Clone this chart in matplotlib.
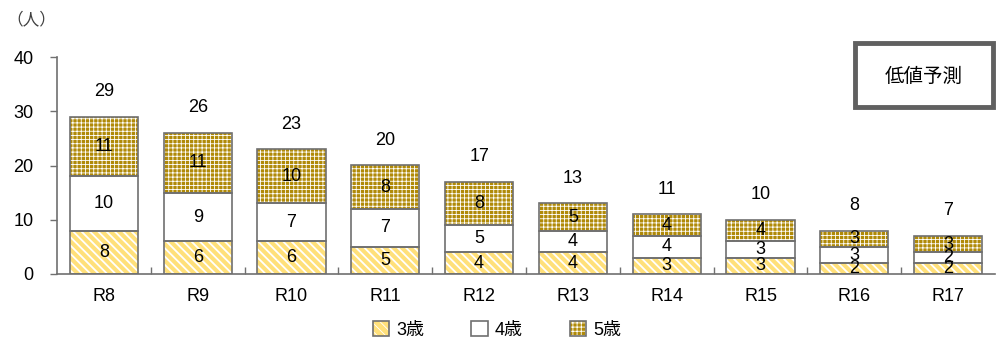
import matplotlib
matplotlib.use("Agg")
import matplotlib.pyplot as plt
from matplotlib.patches import Patch, Rectangle
from matplotlib.legend_handler import HandlerTuple
import numpy as np

plt.rcParams['font.family'] = ['Liberation Sans', 'Noto Sans CJK JP', 'DejaVu Sans']

categories = ["R8", "R9", "R10", "R11", "R12", "R13", "R14", "R15", "R16", "R17"]
age3 = [8, 6, 6, 5, 4, 4, 3, 3, 2, 2]
age4 = [10, 9, 7, 7, 5, 4, 4, 3, 3, 2]
age5 = [11, 11, 10, 8, 8, 5, 4, 4, 3, 3]
series_names = ["3歳", "4歳", "5歳"]
yticks = [0, 10, 20, 30, 40]

W, H = 997, 350
fig = plt.figure(figsize=(W / 100, H / 100), dpi=100)
ax = fig.add_axes([57 / W, 76 / H, 938 / W, 217 / H])

x = np.arange(len(categories))
bw = 0.725
edge = '#707070'

styles = [
    dict(facecolor='#FFE07A', hatch='\\' * 4, hlw=1.3),
    dict(facecolor='white', hatch=None, hlw=1.0),
    dict(facecolor='#B08A08', hatch='++++', hlw=0.6),
]

plt.rcParams['hatch.color'] = 'white'
data = [age3, age4, age5]
bottom = np.zeros(len(categories))
handles = []
for vals, st, name in zip(data, styles, series_names):
    vals = np.array(vals, dtype=float)
    plt.rcParams['hatch.linewidth'] = st['hlw']
    fills = ax.bar(x, vals, bw, bottom=bottom, facecolor=st['facecolor'],
                   hatch=st['hatch'], edgecolor=None, linewidth=0, zorder=2)
    for p in fills:
        if hasattr(p, 'set_hatch_linewidth'):
            p.set_hatch_linewidth(st['hlw'])
    ax.bar(x, vals, bw, bottom=bottom, fill=False, edgecolor=edge,
           linewidth=1.2, zorder=3)
    for xi, b, v in zip(x, bottom, vals):
        ax.text(xi, b + v / 2, f"{int(v)}", ha='center', va='center',
                fontsize=13, zorder=4)
    hf = Patch(facecolor=st['facecolor'], hatch=st['hatch'], edgecolor=None, linewidth=0)
    if hasattr(hf, 'set_hatch_linewidth'):
        hf.set_hatch_linewidth(st['hlw'])
    ho = Patch(fill=False, edgecolor=edge, linewidth=1.2)
    handles.append((hf, ho))
    bottom = bottom + vals

totals = bottom
for xi, t in zip(x, totals):
    ax.annotate(f"{int(t)}", (xi, t), xytext=(0, 12), textcoords='offset points',
                ha='center', va='bottom', fontsize=13)

ax.set_xlim(-0.5, len(categories) - 0.5)
ax.set_ylim(0, 40)
ax.set_yticks(yticks)
ax.set_yticklabels([str(t) for t in yticks], fontsize=13)
ax.set_xticks(x)
ax.set_xticklabels(categories, fontsize=13)
ax.tick_params(axis='x', length=0, pad=10)
ax.set_xticks(np.arange(len(categories) - 1) + 0.5, minor=True)
ax.tick_params(axis='x', which='minor', direction='in', length=5, color=edge, width=1)
ax.tick_params(axis='y', direction='out', length=5, color=edge, width=1, pad=12)
for s in ['top', 'right']:
    ax.spines[s].set_visible(False)
for s in ['left', 'bottom']:
    ax.spines[s].set_color(edge)
    ax.spines[s].set_linewidth(1.2)

fig.text(6 / W, 1 - 19 / H, "（人）", fontsize=12, color='#404040', va='center', ha='left')

# annotation box
box = Rectangle((855 / W, 1 - 107 / H), 138 / W, 64 / H, transform=fig.transFigure,
                facecolor='white', edgecolor='#606060', linewidth=3.5)
fig.patches.append(box)
fig.text(924 / W, 1 - 76 / H, "低値予測", fontsize=14, ha='center', va='center',
         family=['Noto Sans CJK JP'])

leg = fig.legend(handles, series_names, handler_map={tuple: HandlerTuple(ndivide=1)},
                 loc='center', bbox_to_anchor=(497 / W, 1 - 330 / H), ncol=3,
                 frameon=False, fontsize=13, handlelength=0.9, handleheight=0.9,
                 columnspacing=2.6, handletextpad=0.4)

fig.savefig("out.png", dpi=100)
